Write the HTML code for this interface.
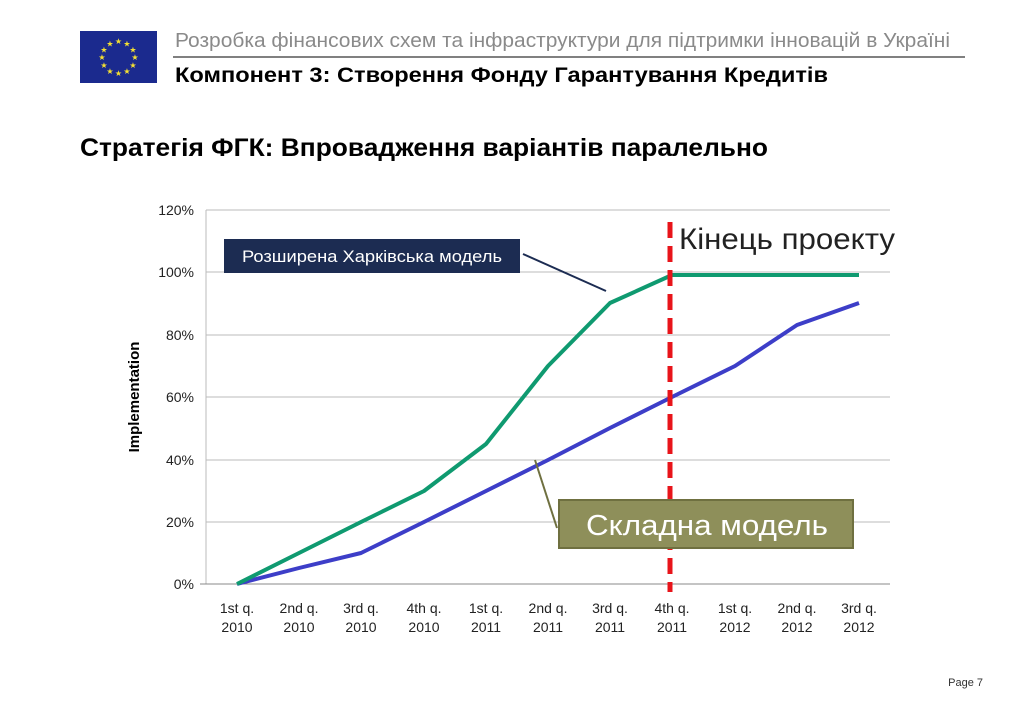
<!DOCTYPE html>
<html><head><meta charset="utf-8"><style>
body{margin:0;background:#fff;width:1023px;height:708px;overflow:hidden;font-family:"Liberation Sans",sans-serif;}
svg{position:absolute;left:0;top:0}
</style></head><body>
<svg width="1023" height="708" xmlns="http://www.w3.org/2000/svg" font-family="Liberation Sans, sans-serif">
<rect x="80" y="31" width="77" height="52" fill="#1b2a8e"/>
<g fill="#f5e132" font-size="8" text-anchor="middle">
<text x="118.5" y="44">★</text><text x="127" y="46.5">★</text><text x="133" y="52.5">★</text><text x="135" y="60">★</text><text x="133" y="68">★</text><text x="127" y="74">★</text><text x="118.5" y="76">★</text><text x="110" y="74">★</text><text x="104" y="68">★</text><text x="102" y="60">★</text><text x="104" y="52.5">★</text><text x="110" y="46.5">★</text>
</g>
<text x="175" y="47" font-size="20" fill="#8a8a8a" textLength="775" lengthAdjust="spacingAndGlyphs">Розробка фінансових схем та інфраструктури для підтримки інновацій в Україні</text>
<line x1="173" y1="57" x2="965" y2="57" stroke="#000" stroke-width="1"/>
<text x="175" y="82" font-size="21" font-weight="bold" fill="#000" textLength="653" lengthAdjust="spacingAndGlyphs">Компонент 3: Створення Фонду Гарантування Кредитів</text>
<text x="80" y="156" font-size="25" font-weight="bold" fill="#000" textLength="688" lengthAdjust="spacingAndGlyphs">Стратегія ФГК: Впровадження варіантів паралельно</text>
<g stroke="#bbb" stroke-width="1">
<line x1="206" y1="210" x2="890" y2="210"/><line x1="206" y1="272" x2="890" y2="272"/><line x1="206" y1="335" x2="890" y2="335"/><line x1="206" y1="397" x2="890" y2="397"/><line x1="206" y1="460" x2="890" y2="460"/><line x1="206" y1="522" x2="890" y2="522"/>
<line x1="206" y1="210" x2="206" y2="584"/>
</g>
<line x1="200" y1="584" x2="890" y2="584" stroke="#888"/>
<g font-size="14" fill="#222" text-anchor="end">
<text x="194" y="215">120%</text><text x="194" y="277">100%</text><text x="194" y="340">80%</text><text x="194" y="402">60%</text><text x="194" y="465">40%</text><text x="194" y="527">20%</text><text x="194" y="589">0%</text>
</g>
<text transform="translate(139,397) rotate(-90)" font-size="15" font-weight="bold" text-anchor="middle">Implementation</text>
<g font-size="14" fill="#222" text-anchor="middle">
<text x="237" y="613">1st q.</text><text x="237" y="632">2010</text>
<text x="299" y="613">2nd q.</text><text x="299" y="632">2010</text>
<text x="361" y="613">3rd q.</text><text x="361" y="632">2010</text>
<text x="424" y="613">4th q.</text><text x="424" y="632">2010</text>
<text x="486" y="613">1st q.</text><text x="486" y="632">2011</text>
<text x="548" y="613">2nd q.</text><text x="548" y="632">2011</text>
<text x="610" y="613">3rd q.</text><text x="610" y="632">2011</text>
<text x="672" y="613">4th q.</text><text x="672" y="632">2011</text>
<text x="735" y="613">1st q.</text><text x="735" y="632">2012</text>
<text x="797" y="613">2nd q.</text><text x="797" y="632">2012</text>
<text x="859" y="613">3rd q.</text><text x="859" y="632">2012</text>
</g>
<polyline fill="none" stroke="#3d3ec8" stroke-width="4" stroke-linejoin="round" points="237,584 299,568 361,553 424,522 486,491 548,460 610,428 672,397 735,366 797,325 859,303"/>
<polyline fill="none" stroke="#0f9a70" stroke-width="4" stroke-linejoin="round" points="237,584 299,553 361,522 424,491 486,444 548,366 610,303 672,275 735,275 797,275 859,275"/>
<line x1="670" y1="222" x2="670" y2="592" stroke="#e8141a" stroke-width="5" stroke-dasharray="16,8"/>
<text x="679" y="249" font-size="30" fill="#222" textLength="216" lengthAdjust="spacingAndGlyphs">Кінець проекту</text>
<rect x="224" y="239" width="296" height="34" fill="#1c2c52"/>
<text x="372" y="262" font-size="17" fill="#fff" text-anchor="middle" textLength="260" lengthAdjust="spacingAndGlyphs">Розширена Харківська модель</text>
<line x1="523" y1="254" x2="606" y2="291" stroke="#1c2c52" stroke-width="2"/>
<rect x="559" y="500" width="294" height="48" fill="#8e8f5a" stroke="#6f7040" stroke-width="2"/>
<text x="707" y="535" font-size="29" fill="#fff" text-anchor="middle" textLength="242" lengthAdjust="spacingAndGlyphs">Складна модель</text>
<line x1="535" y1="460" x2="557" y2="528" stroke="#6f7040" stroke-width="2"/>
<text x="983" y="686" font-size="11" fill="#333" text-anchor="end">Page 7</text>
</svg>
</body></html>
